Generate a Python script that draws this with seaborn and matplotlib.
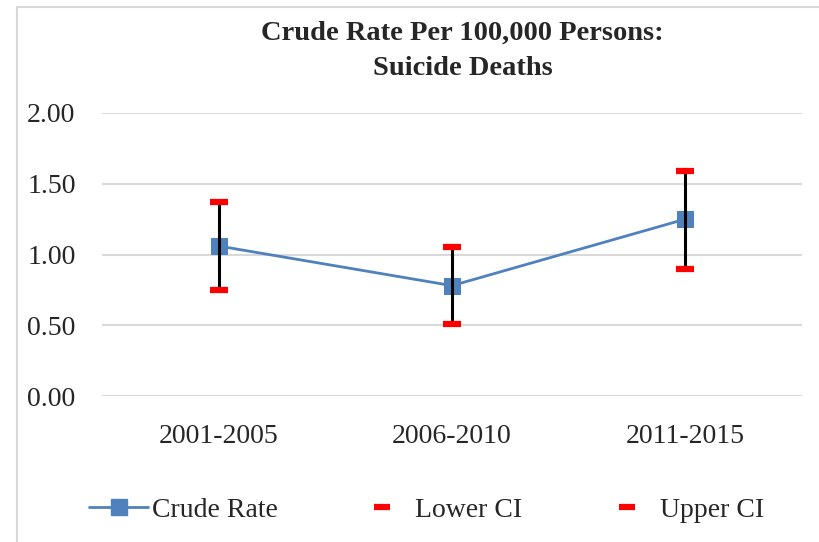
import matplotlib
matplotlib.use("Agg")
import matplotlib.pyplot as plt
import seaborn as sns
import pandas as pd
from matplotlib.lines import Line2D

periods = ["2001-2005", "2006-2010", "2011-2015"]
crude_rate = [1.06, 0.78, 1.25]
lower_ci = [0.75, 0.51, 0.90]
upper_ci = [1.37, 1.05, 1.59]
yticks = [0.0, 0.5, 1.0, 1.5, 2.0]

df = pd.DataFrame({"period": periods, "crude": crude_rate,
                   "lower": lower_ci, "upper": upper_ci})
df["pos"] = range(len(periods))

sns.set_theme(style="white")
plt.rcParams["font.family"] = ["Liberation Serif", "DejaVu Serif"]

fig = plt.figure(figsize=(8.19, 5.42), dpi=100)
ax = fig.add_axes([102/819, 1-396/542, 700/819, (396-113)/542])

blue = "#4F81BD"
sns.lineplot(data=df, x="pos", y="crude", ax=ax, color=blue, linewidth=2.0,
             marker="s", markersize=11, markeredgecolor=blue, zorder=3)
ax.vlines(df["pos"], df["lower"], df["upper"], color="black", linewidth=2.2, zorder=4)
sns.scatterplot(data=df, x="pos", y="lower", ax=ax, marker="_", s=180,
                linewidth=4.5, color="#FF0000", zorder=5)
sns.scatterplot(data=df, x="pos", y="upper", ax=ax, marker="_", s=180,
                linewidth=4.5, color="#FF0000", zorder=5)

ax.set_xlim(-0.5, 2.5)
ax.set_ylim(0, 2.0)
ax.set_yticks(yticks)
ax.set_yticklabels([f"{v:.2f}" for v in yticks], fontsize=20)
ax.set_xticks(df["pos"])
ax.set_xticklabels(periods, fontsize=20)
ax.tick_params(axis="y", pad=19, length=0)
ax.tick_params(axis="x", pad=20, length=0)
ax.set_xlabel("")
ax.set_ylabel("")
ax.grid(axis="y", color="#D9D9D9", linewidth=1.5)
ax.set_axisbelow(True)
for s in ax.spines.values():
    s.set_visible(False)
if ax.get_legend() is not None:
    ax.get_legend().remove()

fig.text(0.565, 0.962, "Crude Rate Per 100,000 Persons:\nSuicide Deaths",
         ha="center", va="top", fontsize=20.5, fontweight="bold", linespacing=1.55)

handles = [
    Line2D([0], [0], color=blue, lw=2.0, marker="s", markersize=11, markeredgecolor=blue),
    Line2D([0], [0], color="#FF0000", lw=0, marker="_", markersize=12, markeredgewidth=4.5),
    Line2D([0], [0], color="#FF0000", lw=0, marker="_", markersize=12, markeredgewidth=4.5),
]
fig.legend(handles, ["Crude Rate", "Lower CI", "Upper CI"], loc="center",
           bbox_to_anchor=(0.521, 0.059), ncol=3, frameon=False, fontsize=20,
           handlelength=2.1, handletextpad=0.15, columnspacing=2.7)

# outer chart frame (partially visible)
fig.add_artist(Line2D([17/819, 17/819], [0, 1-7/542], color="#D9D9D9", lw=1.5,
                      transform=fig.transFigure))
fig.add_artist(Line2D([17/819, 1], [1-7/542, 1-7/542], color="#D9D9D9", lw=1.5,
                      transform=fig.transFigure))

fig.savefig("out.png", dpi=100, facecolor="white")
